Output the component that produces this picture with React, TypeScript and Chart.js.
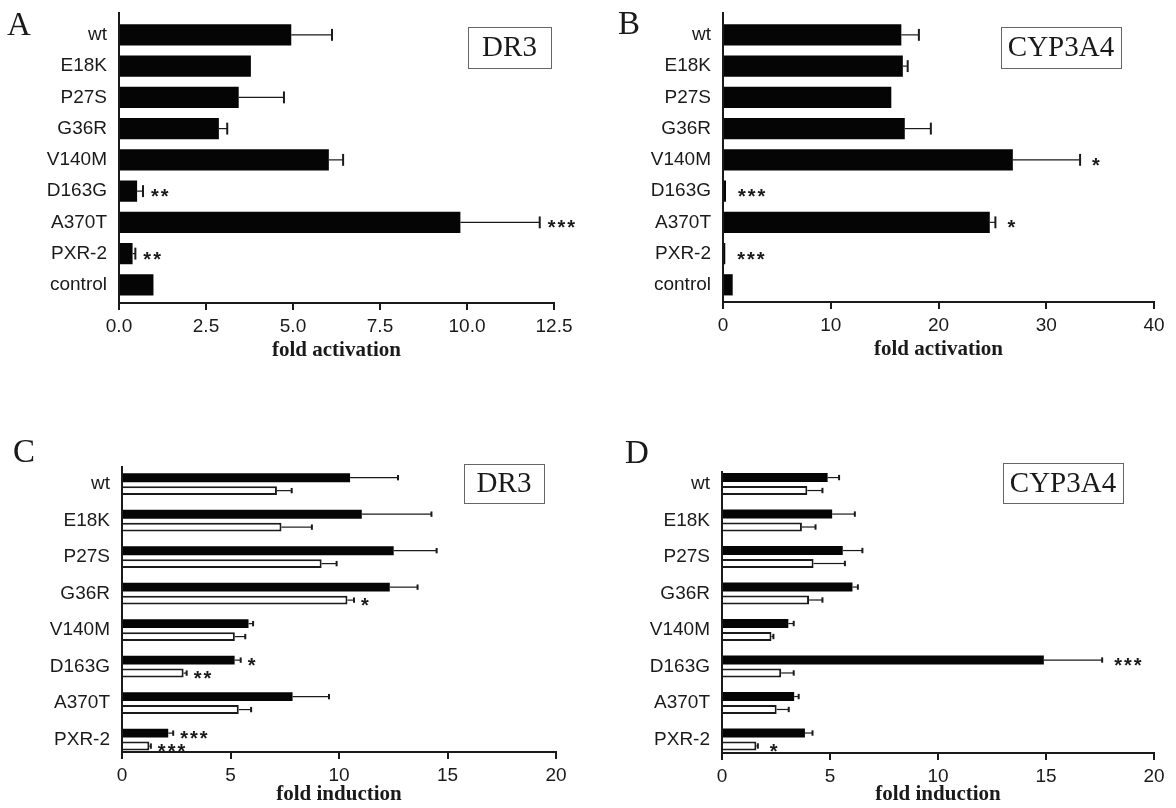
import React, { useEffect, useRef } from "react";
import { Chart, registerables } from "chart.js";

Chart.register(...registerables);

// ---------- data ----------
const mutantsAB = ["wt", "E18K", "P27S", "G36R", "V140M", "D163G", "A370T", "PXR-2", "control"];
const mutantsCD = ["wt", "E18K", "P27S", "G36R", "V140M", "D163G", "A370T", "PXR-2"];

const drA = [4.95, 3.79, 3.44, 2.87, 6.03, 0.52, 9.81, 0.39, 0.99];
const drAErr = [1.17, 0, 1.3, 0.24, 0.41, 0.17, 2.28, 0.08, 0];
const drASig = ["", "", "", "", "", "**", "***", "**", ""];

const cypB = [16.55, 16.69, 15.62, 16.87, 26.9, 0.28, 24.76, 0.21, 0.9];
const cypBErr = [1.63, 0.45, 0, 2.42, 6.24, 0, 0.52, 0, 0];
const cypBSig = ["", "", "", "", "*", "***", "*", "***", ""];

const drCBlack = [10.51, 11.05, 12.52, 12.34, 5.83, 5.19, 7.86, 2.13];
const drCBlackErr = [2.21, 3.21, 1.98, 1.28, 0.21, 0.28, 1.68, 0.23];
const drCBlackSig = ["", "", "", "", "", "*", "", "***"];
const drCWhite = [7.14, 7.35, 9.2, 10.39, 5.2, 2.84, 5.38, 1.26];
const drCWhiteErr = [0.68, 1.4, 0.69, 0.3, 0.48, 0.14, 0.57, 0.07];
const drCWhiteSig = ["", "", "", "*", "", "**", "", "***"];

const cypDBlack = [4.89, 5.1, 5.59, 6.04, 3.07, 14.9, 3.34, 3.84];
const cypDBlackErr = [0.53, 1.05, 0.91, 0.25, 0.25, 2.7, 0.21, 0.35];
const cypDBlackSig = ["", "", "", "", "", "***", "", ""];
const cypDWhite = [3.95, 3.7, 4.24, 4.03, 2.29, 2.74, 2.53, 1.59];
const cypDWhiteErr = [0.7, 0.63, 1.45, 0.62, 0.09, 0.58, 0.56, 0.07];
const cypDWhiteSig = ["", "", "", "", "", "", "", "*"];

const ticksA = [0, 2.5, 5, 7.5, 10, 12.5];
const ticksB = [0, 10, 20, 30, 40];
const ticksCD = [0, 5, 10, 15, 20];

// ---------- styling ----------
const SANS = "'Liberation Sans', Arial, sans-serif";
const SERIF = "'Liberation Serif', 'Times New Roman', serif";
const INK = "#1a1a1a";
const W = 588;
const H = 404;

const decorPlugin = {
  id: "decor",
  afterDatasetsDraw(chart: any, _args: any, opts: any) {
    const ctx = chart.ctx;
    const xs = chart.scales.x;
    chart.data.datasets.forEach((ds: any, di: number) => {
      const meta = chart.getDatasetMeta(di);
      meta.data.forEach((bar: any, i: number) => {
        const v = ds.data[i].x;
        const e = ds.errors ? ds.errors[i] : 0;
        const y = bar.y;
        const h = bar.height;
        let end = bar.x;
        if (e > 0) {
          const xe = xs.getPixelForValue(v + e);
          ctx.save();
          ctx.strokeStyle = INK;
          ctx.lineWidth = 1.2;
          ctx.beginPath();
          ctx.moveTo(bar.x, y);
          ctx.lineTo(xe, y);
          ctx.stroke();
          ctx.lineWidth = 2;
          const ch = h * opts.cap;
          ctx.beginPath();
          ctx.moveTo(xe, y - ch);
          ctx.lineTo(xe, y + ch);
          ctx.stroke();
          ctx.restore();
          end = xe;
        }
        const s = ds.sig ? ds.sig[i] : "";
        if (s) {
          ctx.save();
          ctx.fillStyle = INK;
          ctx.font = `bold ${opts.starSize}px ${SANS}`;
          try {
            ctx.letterSpacing = "2px";
          } catch (err) {}
          ctx.textAlign = "left";
          ctx.textBaseline = "alphabetic";
          ctx.fillText(s, end + opts.starGap, y + opts.starSize * 0.6);
          ctx.restore();
        }
      });
    });
  },
  afterDraw(chart: any, _args: any, opts: any) {
    const ctx = chart.ctx;
    ctx.save();
    ctx.fillStyle = INK;
    ctx.font = `33px ${SERIF}`;
    ctx.textAlign = "left";
    ctx.textBaseline = "alphabetic";
    ctx.fillText(opts.letter, opts.lx, opts.ly);
    const b = opts.box;
    ctx.strokeStyle = "#666";
    ctx.lineWidth = 1;
    ctx.strokeRect(b.x + 0.5, b.y + 0.5, b.w, b.h);
    ctx.font = `29px ${SERIF}`;
    ctx.textAlign = "center";
    ctx.textBaseline = "middle";
    ctx.fillText(b.text, b.x + b.w / 2, b.y + b.h / 2 + 1);
    ctx.restore();
  },
};

type Series = { values: number[]; errors: number[]; sig: string[]; fill: string; border: number };

type PanelCfg = {
  cats: string[];
  series: Series[];
  xTicks: number[];
  xFmt: (v: number) => string;
  xTitle: string;
  area: { left: number; right: number; top: number; bottom: number };
  xAxisH: number;
  titlePadB: number;
  yMin: number;
  yMax: number;
  catPct: number;
  barPct: number;
  decor: any;
};

function buildConfig(p: PanelCfg): any {
  return {
    type: "bar",
    data: {
      datasets: p.series.map((s) => ({
        data: s.values.map((v, i) => ({ x: v, y: i })),
        errors: s.errors,
        sig: s.sig,
        backgroundColor: s.fill,
        borderColor: INK,
        borderWidth: s.border,
        categoryPercentage: p.catPct,
        barPercentage: p.barPct,
      })),
    },
    options: {
      indexAxis: "y",
      responsive: false,
      animation: false,
      devicePixelRatio: 1,
      layout: {
        padding: {
          left: 0,
          top: p.area.top,
          right: W - p.area.right,
          bottom: H - p.area.bottom - p.xAxisH,
        },
      },
      plugins: {
        legend: { display: false },
        tooltip: { enabled: false },
        decor: p.decor,
      },
      scales: {
        x: {
          type: "linear",
          position: "bottom",
          offset: false,
          min: p.xTicks[0],
          max: p.xTicks[p.xTicks.length - 1],
          afterBuildTicks: (s: any) => {
            s.ticks = p.xTicks.map((v) => ({ value: v }));
          },
          ticks: {
            callback: (v: any) => p.xFmt(Number(v)),
            font: { family: SANS, size: 19 },
            color: INK,
            padding: 5,
            maxRotation: 0,
            autoSkip: false,
          },
          grid: {
            display: true,
            drawOnChartArea: false,
            drawTicks: true,
            tickLength: 7,
            color: INK,
            lineWidth: 2,
            offset: false,
          },
          border: { display: true, color: INK, width: 2 },
          title: {
            display: true,
            text: p.xTitle,
            font: { family: SERIF, size: 21, weight: "bold" },
            color: INK,
            padding: { top: 0, bottom: p.titlePadB },
          },
          afterFit: (s: any) => {
            s.height = p.xAxisH;
          },
        },
        y: {
          type: "linear",
          position: "left",
          reverse: true,
          offset: false,
          min: p.yMin,
          max: p.yMax,
          afterBuildTicks: (s: any) => {
            s.ticks = p.cats.map((_, i) => ({ value: i }));
          },
          ticks: {
            callback: (v: any) => p.cats[Number(v)] ?? "",
            font: { family: SANS, size: 19 },
            color: INK,
            padding: 0,
            autoSkip: false,
          },
          grid: { display: false, drawTicks: true, tickLength: 12, offset: false },
          border: { display: true, color: INK, width: 2 },
          afterFit: (s: any) => {
            s.width = p.area.left;
          },
        },
      },
    },
    plugins: [decorPlugin],
  };
}

const panelA: PanelCfg = {
  cats: mutantsAB,
  series: [{ values: drA, errors: drAErr, sig: drASig, fill: "#050505", border: 0 }],
  xTicks: ticksA,
  xFmt: (v) => v.toFixed(1),
  xTitle: "fold activation",
  area: { left: 119, right: 554, top: 13, bottom: 303 },
  xAxisH: 60,
  titlePadB: 0,
  yMin: -0.7,
  yMax: 8.58,
  catPct: 1,
  barPct: 0.68,
  decor: {
    cap: 0.28,
    starSize: 20,
    starGap: 8,
    letter: "A",
    lx: 7,
    ly: 35,
    box: { x: 468, y: 27, w: 83, h: 41, text: "DR3" },
  },
};

const panelB: PanelCfg = {
  cats: mutantsAB,
  series: [{ values: cypB, errors: cypBErr, sig: cypBSig, fill: "#050505", border: 0 }],
  xTicks: ticksB,
  xFmt: (v) => String(v),
  xTitle: "fold activation",
  area: { left: 135, right: 566, top: 13, bottom: 302 },
  xAxisH: 60,
  titlePadB: 0,
  yMin: -0.7,
  yMax: 8.55,
  catPct: 1,
  barPct: 0.68,
  decor: {
    cap: 0.28,
    starSize: 20,
    starGap: 12,
    letter: "B",
    lx: 30,
    ly: 34,
    box: { x: 413, y: 27, w: 120, h: 41, text: "CYP3A4" },
  },
};

const panelC: PanelCfg = {
  cats: mutantsCD,
  series: [
    { values: drCBlack, errors: drCBlackErr, sig: drCBlackSig, fill: "#050505", border: 0 },
    { values: drCWhite, errors: drCWhiteErr, sig: drCWhiteSig, fill: "#ffffff", border: 2 },
  ],
  xTicks: ticksCD,
  xFmt: (v) => String(v),
  xTitle: "fold induction",
  area: { left: 122, right: 556, top: 63, bottom: 348 },
  xAxisH: 56,
  titlePadB: 1,
  yMin: -0.47,
  yMax: 7.34,
  catPct: 0.71,
  barPct: 0.69,
  decor: {
    cap: 0.3,
    starSize: 20,
    starGap: 7,
    letter: "C",
    lx: 13,
    ly: 58,
    box: { x: 464, y: 60, w: 80, h: 39, text: "DR3" },
  },
};

const panelD: PanelCfg = {
  cats: mutantsCD,
  series: [
    { values: cypDBlack, errors: cypDBlackErr, sig: cypDBlackSig, fill: "#050505", border: 0 },
    { values: cypDWhite, errors: cypDWhiteErr, sig: cypDWhiteSig, fill: "#ffffff", border: 2 },
  ],
  xTicks: ticksCD,
  xFmt: (v) => String(v),
  xTitle: "fold induction",
  area: { left: 134, right: 566, top: 68, bottom: 349 },
  xAxisH: 55,
  titlePadB: 1,
  yMin: -0.33,
  yMax: 7.37,
  catPct: 0.71,
  barPct: 0.69,
  decor: {
    cap: 0.3,
    starSize: 20,
    starGap: 12,
    letter: "D",
    lx: 37,
    ly: 59,
    box: { x: 415, y: 59, w: 120, h: 40, text: "CYP3A4" },
  },
};

function Panel({ cfg, left, top }: { cfg: PanelCfg; left: number; top: number }) {
  const ref = useRef<HTMLCanvasElement>(null);
  useEffect(() => {
    const chart = new Chart(ref.current as HTMLCanvasElement, buildConfig(cfg));
    return () => chart.destroy();
  }, [cfg]);
  return (
    <canvas
      ref={ref}
      width={W}
      height={H}
      style={{ position: "absolute", left, top, width: W, height: H, display: "block" }}
    />
  );
}

export default function App() {
  return (
    <div
      style={{
        position: "absolute",
        left: 0,
        top: 0,
        width: 1176,
        height: 808,
        background: "#ffffff",
        overflow: "hidden",
      }}
    >
      <Panel cfg={panelA} left={0} top={0} />
      <Panel cfg={panelB} left={588} top={0} />
      <Panel cfg={panelC} left={0} top={404} />
      <Panel cfg={panelD} left={588} top={404} />
    </div>
  );
}
